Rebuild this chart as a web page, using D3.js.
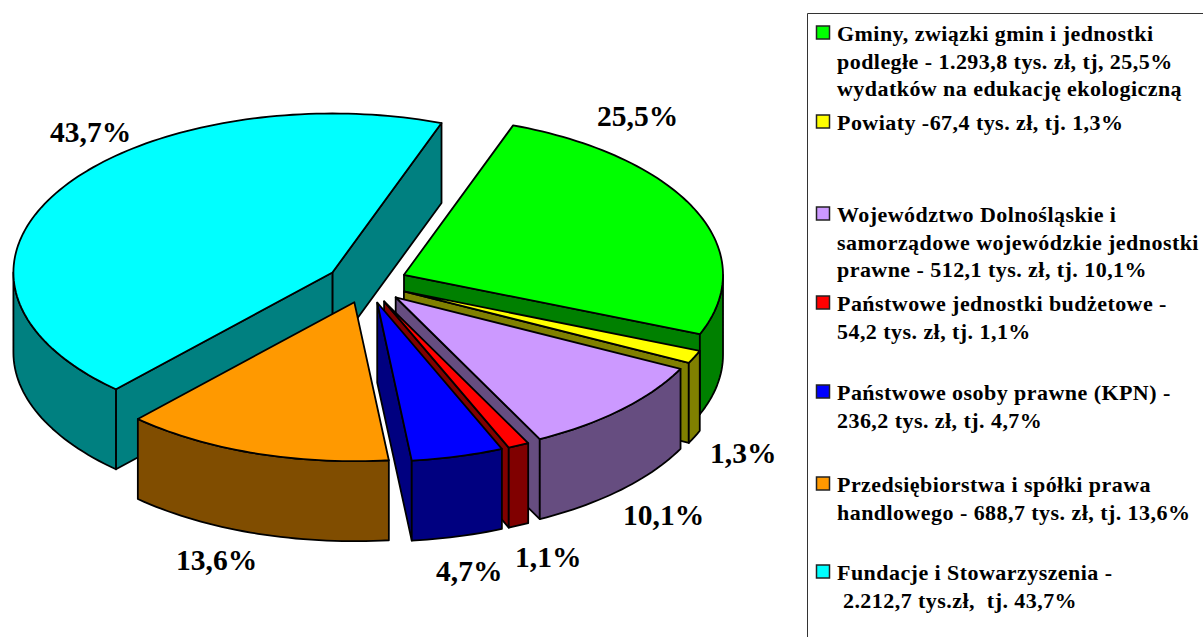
<!DOCTYPE html>
<html>
<head>
<meta charset="utf-8">
<style>
    body { margin: 0; background: #fff; }
    svg { display: block; }
    text { font-family: "Liberation Serif", serif; font-weight: bold; fill: #000; }
</style>
</head>
<body>
<div id="chart"></div>
<script src="https://cdn.jsdelivr.net/npm/d3@7"></script>
<script>
var width = 1203;
var height = 637;

// tys. zl, in the order of the legend
var values = [1293.8, 67.4, 512.1, 54.2, 236.2, 688.7, 2212.7];
var percentLabels = ["25,5%", "1,3%", "10,1%", "1,1%", "4,7%", "13,6%", "43,7%"];
var colors = ["#00ff00", "#ffff00", "#cc99ff", "#ff0000", "#0000ff", "#ff9900", "#00ffff"];
var legendLines = [
    ["Gminy, związki gmin i jednostki", "podległe - 1.293,8 tys. zł, tj, 25,5%", "wydatków na edukację ekologiczną"],
    ["Powiaty -67,4 tys. zł, tj. 1,3%"],
    ["Województwo Dolnośląskie i", "samorządowe wojewódzkie jednostki", "prawne - 512,1 tys. zł, tj. 10,1%"],
    ["Państwowe jednostki budżetowe -", "54,2 tys. zł, tj. 1,1%"],
    ["Państwowe osoby prawne (KPN) -", "236,2 tys. zł, tj. 4,7%"],
    ["Przedsiębiorstwa i spółki prawa", "handlowego - 688,7 tys. zł, tj. 13,6%"],
    ["Fundacje i Stowarzyszenia -", " 2.212,7 tys.zł,  tj. 43,7%"]
];

// hand placed, same order as the arrays above
var labelPos = [[597, 126], [710, 463], [623, 525], [515, 567], [436, 580.5], [176, 570], [50, 142]];
var legendBaselines = [41, 130, 222, 311, 400, 492, 580];
var lineHeight = 27.5;

var cx = 367, cy = 283, rx = 319, ry = 159, depth = 80, explode = 0.127;

var xScale = d3.scaleLinear().domain([-1, 1]).range([cx - rx, cx + rx]);
var yScale = d3.scaleLinear().domain([-1, 1]).range([cy - ry, cy + ry]);

var svg = d3.select("#chart")
    .append("svg")
    .attr("width", width)
    .attr("height", height);

var pie = d3.pie()
    .sort(null)
    .startAngle(20 * Math.PI / 180)
    .endAngle(380 * Math.PI / 180);

var slices = pie(values);
var line = d3.line();

// point on a slice, r = 0 is its tip
function point(d, a, r, z) {
    var mid = (d.startAngle + d.endAngle) / 2;
    return [
        xScale(r * Math.sin(a) + explode * Math.sin(mid)),
        yScale(-r * Math.cos(a) - explode * Math.cos(mid)) + z
    ];
}

function arcPoints(d, a0, a1, z) {
    var n = Math.max(2, Math.ceil((a1 - a0) * 40));
    return d3.range(n + 1).map(function(i) {
        return point(d, a0 + (a1 - a0) * i / n, 1, z);
    });
}

function closed(pts) {
    return line(pts) + "Z";
}

// darker colour for the sides
function sideColor(c) {
    var rgb = d3.rgb(c);
    return d3.rgb(rgb.r * 0.5, rgb.g * 0.5, rgb.b * 0.5).formatHex();
}

// drawn back to front: biggest slice first, then round from the green one
var order = [6, 0, 1, 2, 3, 4, 5];

order.forEach(function(i) {
    var d = slices[i];
    var g = svg.append("g").attr("class", "slice");
    var side = sideColor(colors[i]);

    function wall(a) {
        g.append("path")
            .attr("d", closed([point(d, a, 0, 0), point(d, a, 1, 0), point(d, a, 1, depth), point(d, a, 0, depth)]))
            .attr("fill", side)
            .attr("stroke", "#000")
            .attr("stroke-width", 1.8)
            .attr("stroke-linejoin", "round");
    }

    if (Math.sin(d.endAngle) > 0) wall(d.endAngle);
    if (-Math.sin(d.startAngle) > 0) wall(d.startAngle);

    // outer rim, only the part facing us
    var a0 = Math.max(d.startAngle, Math.PI / 2);
    var a1 = Math.min(d.endAngle, 3 * Math.PI / 2);
    if (a1 > a0) {
        g.append("path")
            .attr("d", closed(arcPoints(d, a0, a1, 0).concat(arcPoints(d, a0, a1, depth).reverse())))
            .attr("fill", side)
            .attr("stroke", "#000")
            .attr("stroke-width", 1.8)
            .attr("stroke-linejoin", "round");
    }

    g.append("path")
        .attr("d", closed([point(d, d.startAngle, 0, 0)].concat(arcPoints(d, d.startAngle, d.endAngle, 0))))
        .attr("fill", colors[i])
        .attr("stroke", "#000")
        .attr("stroke-width", 1.8)
        .attr("stroke-linejoin", "round");
});

svg.selectAll(".pct")
    .data(percentLabels)
    .enter()
    .append("text")
    .attr("class", "pct")
    .attr("x", function(d, i) { return labelPos[i][0]; })
    .attr("y", function(d, i) { return labelPos[i][1]; })
    .attr("font-size", 29.5)
    .text(function(d) { return d; });

// legend box runs off the page on the right and at the bottom
svg.append("path")
    .attr("d", "M1203,13.5H807.5V637")
    .attr("fill", "none")
    .attr("stroke", "#333")
    .attr("stroke-width", 1);

var legend = svg.selectAll(".legend")
    .data(legendLines)
    .enter()
    .append("g")
    .attr("class", "legend");

legend.append("rect")
    .attr("x", 816.5)
    .attr("y", function(d, i) { return legendBaselines[i] - 15; })
    .attr("width", 13)
    .attr("height", 13)
    .attr("fill", function(d, i) { return colors[i]; })
    .attr("stroke", "#222")
    .attr("stroke-width", 1.5);

legend.each(function(lines, i) {
    d3.select(this).selectAll("text")
        .data(lines)
        .enter()
        .append("text")
        .attr("x", 837)
        .attr("y", function(d, j) { return legendBaselines[i] + j * lineHeight; })
        .attr("font-size", 22)
        .attr("letter-spacing", 0.45)
        .attr("xml:space", "preserve")
        .style("white-space", "pre")
        .text(function(d) { return d; });
});
</script>
</body>
</html>
